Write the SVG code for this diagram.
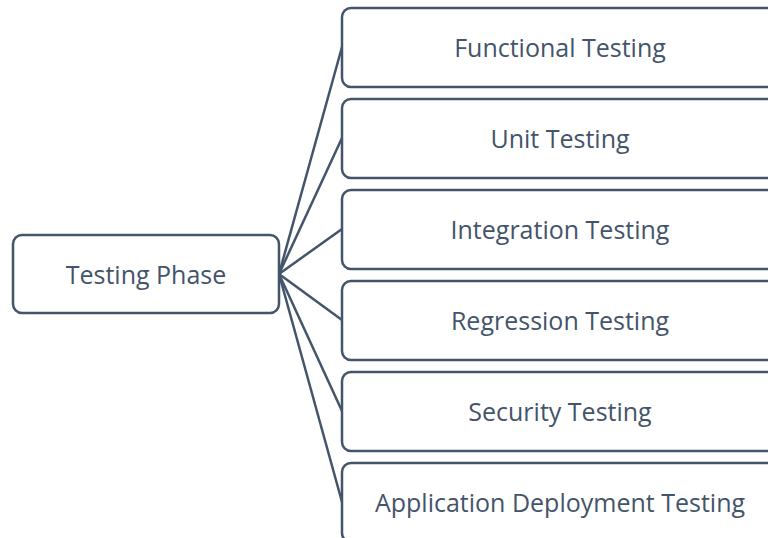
<svg xmlns="http://www.w3.org/2000/svg" width="768" height="538" viewBox="0 0 768 538">
  <style>
    .box { fill: #ffffff; stroke: #44546A; stroke-width: 2.5; }
    .link { stroke: #44546A; stroke-width: 2.5; fill: none; }
    .label { font-family: "Open Sans", "Liberation Sans", sans-serif; font-size: 25px; fill: #44546A; text-anchor: middle; dominant-baseline: central; }
  </style>
  <rect width="768" height="538" fill="#ffffff"/>

  <!-- connectors from the root to each child -->
  <g id="connectors">
    <line class="link" x1="279" y1="274" x2="342" y2="47"/>
    <line class="link" x1="279" y1="274" x2="342" y2="138"/>
    <line class="link" x1="279" y1="274" x2="342" y2="229"/>
    <line class="link" x1="279" y1="274" x2="342" y2="320"/>
    <line class="link" x1="279" y1="274" x2="342" y2="411"/>
    <line class="link" x1="279" y1="274" x2="342" y2="502"/>
  </g>

  <g id="testing-phase">
    <rect class="box" x="13" y="235" width="266" height="78" rx="9"/>
    <text class="label" x="146" y="274">Testing Phase</text>
  </g>

  <g id="functional-testing">
    <rect class="box" x="342" y="8" width="434" height="79" rx="9"/>
    <text class="label" x="560" y="47">Functional Testing</text>
  </g>

  <g id="unit-testing">
    <rect class="box" x="342" y="99" width="434" height="79" rx="9"/>
    <text class="label" x="560" y="138">Unit Testing</text>
  </g>

  <g id="integration-testing">
    <rect class="box" x="342" y="190" width="434" height="79" rx="9"/>
    <text class="label" x="560" y="229">Integration Testing</text>
  </g>

  <g id="regression-testing">
    <rect class="box" x="342" y="281" width="434" height="79" rx="9"/>
    <text class="label" x="560" y="320">Regression Testing</text>
  </g>

  <g id="security-testing">
    <rect class="box" x="342" y="372" width="434" height="79" rx="9"/>
    <text class="label" x="560" y="411">Security Testing</text>
  </g>

  <g id="application-deployment-testing">
    <rect class="box" x="342" y="463" width="434" height="79" rx="9"/>
    <text class="label" x="560" y="502">Application Deployment Testing</text>
  </g>
</svg>
